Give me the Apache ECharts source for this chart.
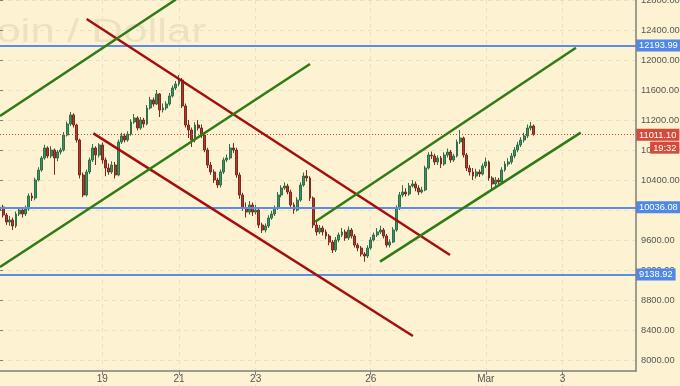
<!DOCTYPE html>
<html><head><meta charset="utf-8">
<script src="https://cdn.jsdelivr.net/npm/echarts@6/dist/echarts.min.js"></script>
<style>html,body{margin:0;padding:0;background:#fdf3d2}#c{width:680px;height:386px}</style>
</head><body><div id="c"></div><script>
// ---- data (2-hour candles, BTC/USD, from 2018-02-16 08:00) ----
const firstOpen = 10000;
const closes = [
10040,9933,9840,9867,9787,9947,10000,9947,10013,10187,
10160,10400,10533,10693,10827,10720,10800,10693,10773,10800,
11000,11147,11267,11133,10933,10467,10200,10507,10667,10827,
10733,10867,10667,10560,10507,10600,10467,10907,10987,10933,
11013,11173,11227,11093,11200,11147,11360,11467,11413,11547,
11333,11360,11413,11520,11627,11680,11733,11387,11133,11067,
10933,11133,11093,11000,10800,10600,10507,10400,10333,10507,
10667,10693,10827,10800,10467,10200,10027,9973,10067,9973,
10000,9800,9733,9787,9893,9947,10027,10200,10293,10320,
10240,10067,10000,10133,10333,10453,10427,10160,9800,9707,
9760,9707,9653,9573,9467,9600,9667,9707,9627,9733,
9653,9533,9493,9413,9387,9493,9600,9667,9707,9733,
9653,9533,9573,9733,10027,10200,10240,10213,10320,10347,
10293,10240,10267,10560,10733,10720,10640,10693,10613,10733,
10773,10667,10720,10907,10960,10733,10560,10507,10453,10507,
10480,10587,10640,10427,10347,10400,10373,10533,10613,10640,
10720,10800,10867,10933,10987,11093,11120,11011.10
];
const highs = [
10080,10070,9960,9920,9900,9980,10040,10030,10060,10220,
10230,10430,10570,10720,10870,10850,10850,10820,10800,10830,
11040,11180,11307,11290,11150,10950,10500,10540,10700,10880,
10850,10890,10900,10700,10620,10650,10640,10940,11030,11020,
11050,11210,11280,11250,11240,11230,11400,11510,11500,11600,
11560,11420,11450,11560,11660,11720,11800,11760,11420,11200,
11100,11170,11200,11140,11030,10830,10640,10540,10430,10540,
10700,10740,10880,10893,10830,10500,10230,10100,10120,10100,
10070,10030,9830,9820,9930,9990,10060,10240,10330,10370,
10350,10270,10100,10170,10370,10500,10533,10450,10180,9840,
9800,9790,9740,9680,9600,9640,9700,9760,9740,9780,
9760,9680,9560,9520,9440,9530,9640,9700,9760,9790,
9760,9680,9610,9770,10060,10240,10330,10290,10360,10400,
10380,10330,10310,10590,10770,10780,10750,10730,10720,10770,
10820,10800,10750,10940,11067,10980,10760,10600,10560,10550,
10540,10620,10700,10660,10450,10440,10430,10570,10650,10690,
10760,10840,10910,10970,11030,11140,11173,11140
];
const lows = [
9960,9900,9800,9790,9733,9760,9920,9900,9920,9990,
10120,10130,10380,10510,10670,10690,10690,10470,10650,10740,
10780,10980,11120,11100,10900,10420,10170,10180,10480,10640,
10600,10700,10620,10450,10470,10480,10420,10450,10880,10900,
10910,10990,11150,11060,11070,11100,11130,11340,11380,11400,
11240,11300,11330,11390,11500,11600,11650,11360,11100,10960,
10840,10900,11060,10960,10770,10560,10470,10360,10293,10300,
10480,10640,10670,10760,10430,10150,9990,9900,9940,9920,
9940,9760,9693,9700,9760,9870,9920,10000,10170,10270,
10210,10030,9950,9980,10110,10310,10380,10120,9760,9660,
9680,9660,9610,9530,9427,9440,9570,9640,9590,9600,
9620,9500,9450,9380,9310,9360,9470,9580,9640,9680,
9620,9500,9500,9560,9710,10000,10170,10180,10190,10300,
10250,10200,10220,10250,10540,10680,10600,10600,10560,10590,
10700,10630,10640,10700,10880,10700,10520,10460,10400,10420,
10440,10460,10560,10390,10267,10310,10330,10350,10510,10580,
10610,10690,10770,10840,10900,10960,11060,10990
];
// x-axis tick labels
const tickCats = ['2018-02-19 00','2018-02-21 00','2018-02-23 00','2018-02-26 00','2018-03-01 00','2018-03-03 00'];
const tickLabels = ['19','21','23','26','Mar','3'];
// horizontal levels
const blueLevels = [12193.99, 10036.08, 9138.92];
const lastPrice = 11011.10;
const countdown = '19:32';
// trend lines: [slotIndex, price] pairs
const redUpper = [[27.1, 12547], [140.8, 9400]];
const redLower = [[29.2, 11022], [129.2, 8320]];
const greenTopLeft = [[0, 11253], [54.8, 12800], [60, 13200]];
const greenMidLeft = [[0, 9240], [97.0, 11947]];
const greenUpperRight = [[98.6, 9844], [180.2, 12164]];
const greenLowerRight = [[118.9, 9311], [181.7, 11031]];
const watermark = 'Bitcoin / Dollar';

// categories: 2-hour slots
const SLOTS = 200;
const categories = [];
(function(){
  const start = Date.UTC(2018,1,16,8);
  for (let i=0;i<SLOTS;i++){
    const d = new Date(start + i*2*3600*1000);
    const p = n => String(n).padStart(2,'0');
    categories.push(d.getUTCFullYear()+'-'+p(d.getUTCMonth()+1)+'-'+p(d.getUTCDate())+' '+p(d.getUTCHours()));
  }
})();
const ohlc = closes.map((c,i)=>[i===0?firstOpen:closes[i-1], c, lows[i], highs[i]]);

const AX = '#7f7f7f';
const FONT = "'Liberation Sans',Arial,sans-serif";
const FS = 9.3;
const isTick = (idx, val) => tickCats.indexOf(categories[idx]) >= 0;
const GRID_LINE = {type:[4,4], color:'#e9e0c6', width:1};

function trend(data, color){
  return {type:'line', xAxisIndex:1, data:data, showSymbol:false, symbol:'none', silent:true,
    lineStyle:{color:color, width:2.5}, z:5, clip:true};
}

const chart = echarts.init(document.getElementById('c'));
chart.setOption({
  backgroundColor:'#fdf3d2',
  animation:false,
  grid:{left:0, right:44, top:0, height:390, containLabel:false, outerBoundsMode:'none'},
  graphic:[
    {type:'text', x:206, y:33, z:-10, silent:true, scaleX:1.33,
      style:{text:watermark, fontSize:33, fontFamily:"'Liberation Sans',Arial,sans-serif",
        fill:'rgba(90,80,60,0.10)', align:'right', verticalAlign:'middle'}},
    {type:'line', z:10, silent:true, shape:{x1:636, y1:0, x2:636, y2:371.5},
      style:{stroke:AX, lineWidth:1.5}}
  ],
  xAxis:[{
    type:'category', data:categories, boundaryGap:false, offset:-19,
    axisLine:{lineStyle:{color:AX, width:1.5}},
    axisTick:{interval:isTick, length:4, lineStyle:{color:AX}},
    axisLabel:{interval:isTick, formatter:v=>tickLabels[tickCats.indexOf(v)], color:'#555', fontSize:10, margin:3, fontFamily:FONT},
    splitLine:{show:true, interval:isTick, lineStyle:GRID_LINE}
  },{
    type:'value', min:0, max:SLOTS-1, show:false
  }],
  yAxis:{
    type:'value', position:'right', min:7600, max:12800, interval:400,
    axisLine:{show:false},
    axisTick:{show:true, length:3, lineStyle:{color:AX}},
    axisLabel:{formatter:v=>v.toFixed(2), color:'#555', fontSize:FS, margin:5, fontFamily:FONT},
    splitLine:{show:true, lineStyle:GRID_LINE}
  },
  series:[
    {type:'candlestick', data:ohlc, barWidth:2.4, z:3,
      itemStyle:{color:'#3f9161', color0:'#b3392b', borderColor:'#2e6e48', borderColor0:'#7c2a1e', borderWidth:1},
      markLine:{symbol:'none', silent:true, animation:false, precision:2,
        data:[
          ...blueLevels.map(v=>({yAxis:v, lineStyle:{color:'#5b8de6', width:2, type:'solid'},
            label:{show:true, position:'end', distance:0, formatter:v.toFixed(2), color:'#fff', backgroundColor:'#4f88e6',
              padding:[2,3,1,3], fontSize:FS, fontFamily:FONT}})),
          {yAxis:lastPrice, lineStyle:{color:'#d0432f', width:1, type:[1,2]},
            label:{show:true, position:'end', distance:0, padding:[14,0,0,0],
              formatter:'{a|'+lastPrice.toFixed(2)+'}\n{b|'+countdown+'}',
              rich:{a:{color:'#fff', backgroundColor:'#d44a3b', padding:[2,3,1,3], fontSize:FS, fontFamily:FONT, lineHeight:13},
                    b:{color:'#fff', backgroundColor:'#d44a3b', padding:[2,3,1,3], fontSize:FS, fontFamily:FONT, lineHeight:13, align:'right'}}}}
        ]}
    },
    trend(redUpper, '#a30f0f'),
    trend(redLower, '#a30f0f'),
    trend(greenTopLeft, '#2f7b14'),
    trend(greenMidLeft, '#2f7b14'),
    trend(greenUpperRight, '#2f7b14'),
    trend(greenLowerRight, '#2f7b14')
  ]
});
</script></body></html>
